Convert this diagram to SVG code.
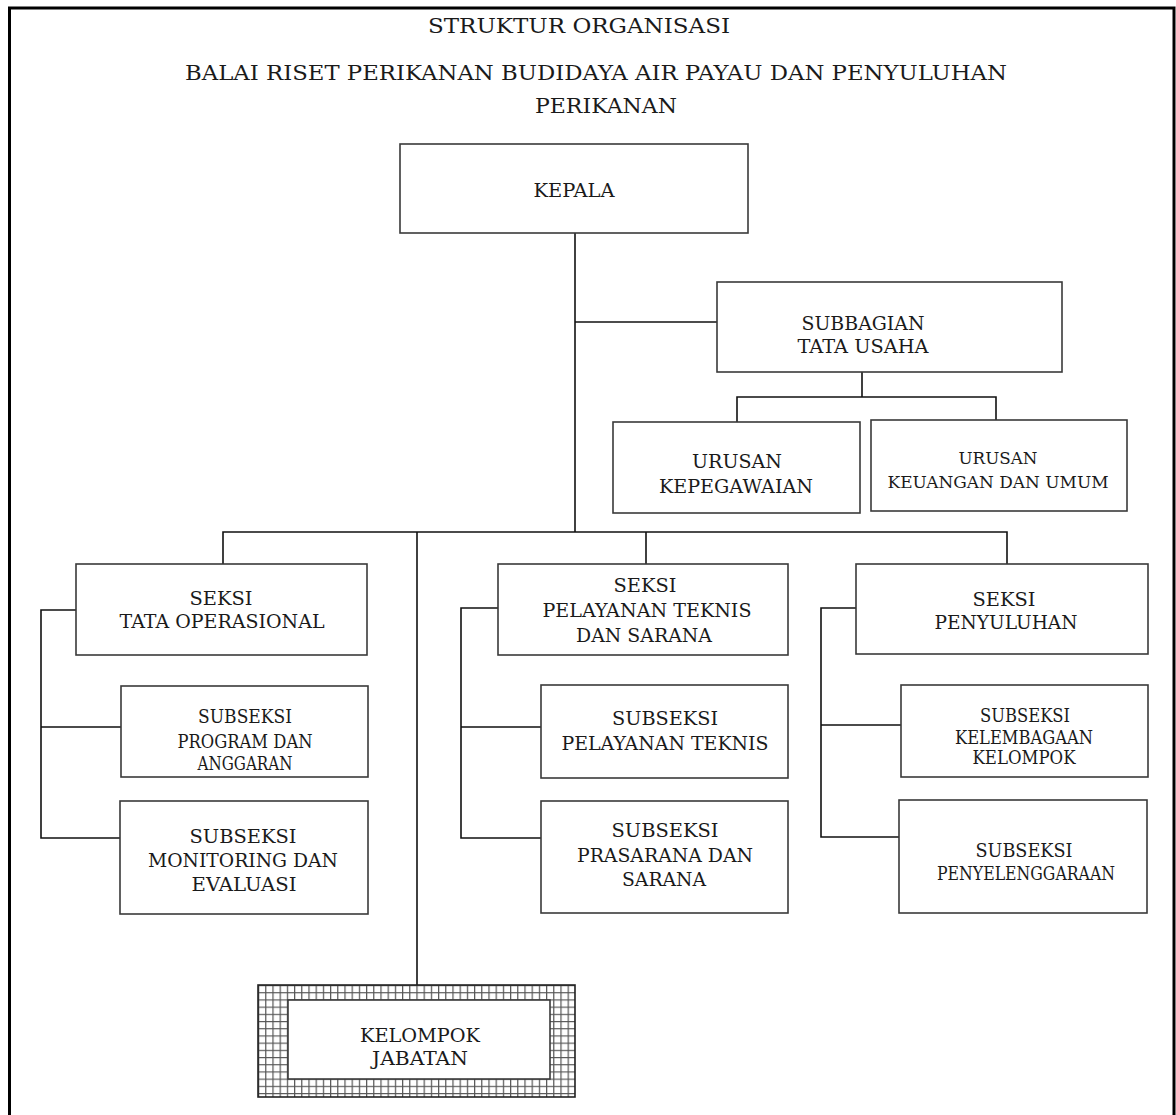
<svg xmlns="http://www.w3.org/2000/svg" width="1176" height="1115" viewBox="0 0 1176 1115">
<style>
text{font-family:"DejaVu Serif","Liberation Serif",serif;fill:#1a1a1a;text-anchor:middle;font-size:18.5px}
.t{font-size:20.5px}
.s{font-size:17.5px}
.box{fill:#fff;stroke:#3a3a3a;stroke-width:1.6}
.ln{fill:none;stroke:#111;stroke-width:1.6}
</style>
<defs>
<pattern id="grid" width="7.2" height="7.2" patternUnits="userSpaceOnUse" x="258" y="985">
<rect width="7.2" height="7.2" fill="#fff"/>
<path d="M0 0.6H7.2M0.6 0V7.2" stroke="#555" stroke-width="1.2"/>
</pattern>
</defs>
<rect width="1176" height="1115" fill="#fff"/>
<path d="M9.5 1115V8H1174V1115" fill="none" stroke="#000" stroke-width="3"/>
<g id="title">
<text class="t" x="579" y="33" textLength="302" lengthAdjust="spacingAndGlyphs">STRUKTUR ORGANISASI</text>
<text class="t" x="596" y="80" textLength="822" lengthAdjust="spacingAndGlyphs">BALAI RISET PERIKANAN BUDIDAYA AIR PAYAU DAN PENYULUHAN</text>
<text class="t" x="606" y="113" textLength="142" lengthAdjust="spacingAndGlyphs">PERIKANAN</text>
</g>
<g id="connectors">
<path class="ln" d="M575 233V532"/>
<path class="ln" d="M575 322H717"/>
<path class="ln" d="M862 372V397M737 422V397H996V420"/>
<path class="ln" d="M223 564V532H1007V564"/>
<path class="ln" d="M646 532V564"/>
<path class="ln" d="M417 532V985"/>
<path class="ln" d="M76 610H41V838H121M41 727H121"/>
<path class="ln" d="M498 608H461V838H541M461 727H541"/>
<path class="ln" d="M856 608H821V837H901M821 725H901"/>
</g>
<g id="kepala">
<rect class="box" x="400" y="144" width="348" height="89"/>
<text x="574" y="197" textLength="81" lengthAdjust="spacingAndGlyphs">KEPALA</text>
</g>
<g id="subbagian-tu">
<rect class="box" x="717" y="282" width="345" height="90"/>
<text x="863" y="330" textLength="123" lengthAdjust="spacingAndGlyphs">SUBBAGIAN</text>
<text x="863" y="353" textLength="131" lengthAdjust="spacingAndGlyphs">TATA USAHA</text>
</g>
<g id="urusan-kepegawaian">
<rect class="box" x="613" y="422" width="247" height="91"/>
<text x="737" y="468" textLength="90" lengthAdjust="spacingAndGlyphs">URUSAN</text>
<text x="736" y="493" textLength="154" lengthAdjust="spacingAndGlyphs">KEPEGAWAIAN</text>
</g>
<g id="urusan-keuangan">
<rect class="box" x="871" y="420" width="256" height="91"/>
<text class="s" x="998" y="464" textLength="79" lengthAdjust="spacingAndGlyphs">URUSAN</text>
<text class="s" x="998" y="488" textLength="221" lengthAdjust="spacingAndGlyphs">KEUANGAN DAN UMUM</text>
</g>
<g id="seksi-tata-operasional">
<rect class="box" x="76" y="564" width="291" height="91"/>
<text x="221" y="605" textLength="63" lengthAdjust="spacingAndGlyphs">SEKSI</text>
<text x="222" y="628" textLength="205" lengthAdjust="spacingAndGlyphs">TATA OPERASIONAL</text>
</g>
<g id="subseksi-program">
<rect class="box" x="121" y="686" width="247" height="91"/>
<text x="245" y="723" textLength="94" lengthAdjust="spacingAndGlyphs">SUBSEKSI</text>
<text x="245" y="748" textLength="135" lengthAdjust="spacingAndGlyphs">PROGRAM DAN</text>
<text x="245" y="770" textLength="95" lengthAdjust="spacingAndGlyphs">ANGGARAN</text>
</g>
<g id="subseksi-monitoring">
<rect class="box" x="120" y="801" width="248" height="113"/>
<text x="243" y="843" textLength="107" lengthAdjust="spacingAndGlyphs">SUBSEKSI</text>
<text x="243" y="867" textLength="190" lengthAdjust="spacingAndGlyphs">MONITORING DAN</text>
<text x="244" y="891" textLength="105" lengthAdjust="spacingAndGlyphs">EVALUASI</text>
</g>
<g id="seksi-pelayanan">
<rect class="box" x="498" y="564" width="290" height="91"/>
<text x="645" y="592" textLength="63" lengthAdjust="spacingAndGlyphs">SEKSI</text>
<text x="647" y="617" textLength="209" lengthAdjust="spacingAndGlyphs">PELAYANAN TEKNIS</text>
<text x="644" y="642" textLength="136" lengthAdjust="spacingAndGlyphs">DAN SARANA</text>
</g>
<g id="subseksi-pelayanan-teknis">
<rect class="box" x="541" y="685" width="247" height="93"/>
<text x="665" y="725" textLength="106" lengthAdjust="spacingAndGlyphs">SUBSEKSI</text>
<text x="665" y="750" textLength="207" lengthAdjust="spacingAndGlyphs">PELAYANAN TEKNIS</text>
</g>
<g id="subseksi-prasarana">
<rect class="box" x="541" y="801" width="247" height="112"/>
<text x="665" y="837" textLength="107" lengthAdjust="spacingAndGlyphs">SUBSEKSI</text>
<text x="665" y="862" textLength="176" lengthAdjust="spacingAndGlyphs">PRASARANA DAN</text>
<text x="664" y="886" textLength="84" lengthAdjust="spacingAndGlyphs">SARANA</text>
</g>
<g id="seksi-penyuluhan">
<rect class="box" x="856" y="564" width="292" height="90"/>
<text x="1004" y="606" textLength="63" lengthAdjust="spacingAndGlyphs">SEKSI</text>
<text x="1006" y="629" textLength="143" lengthAdjust="spacingAndGlyphs">PENYULUHAN</text>
</g>
<g id="subseksi-kelembagaan">
<rect class="box" x="901" y="685" width="247" height="92"/>
<text x="1025" y="722" textLength="90" lengthAdjust="spacingAndGlyphs">SUBSEKSI</text>
<text x="1024" y="744" textLength="138" lengthAdjust="spacingAndGlyphs">KELEMBAGAAN</text>
<text x="1024" y="764" textLength="103" lengthAdjust="spacingAndGlyphs">KELOMPOK</text>
</g>
<g id="subseksi-penyelenggaraan">
<rect class="box" x="899" y="800" width="248" height="113"/>
<text x="1024" y="857" textLength="97" lengthAdjust="spacingAndGlyphs">SUBSEKSI</text>
<text x="1026" y="880" textLength="178" lengthAdjust="spacingAndGlyphs">PENYELENGGARAAN</text>
</g>
<g id="kelompok-jabatan">
<rect x="258" y="985" width="317" height="112" fill="url(#grid)" stroke="#222" stroke-width="1.6"/>
<rect class="box" x="288" y="1000" width="262" height="79" stroke="#222"/>
<text x="420" y="1042" textLength="120" lengthAdjust="spacingAndGlyphs">KELOMPOK</text>
<text x="420" y="1065" textLength="96" lengthAdjust="spacingAndGlyphs">JABATAN</text>
</g>
</svg>
